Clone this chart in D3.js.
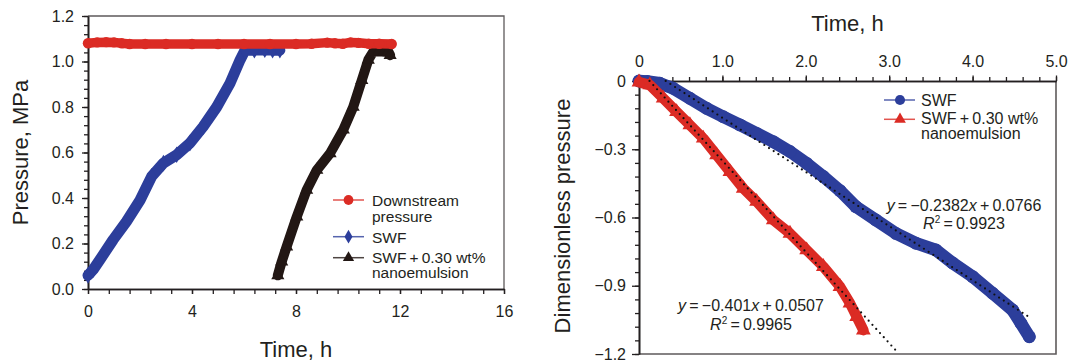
<!DOCTYPE html>
<html><head><meta charset="utf-8">
<script src="https://cdn.jsdelivr.net/npm/d3@7"></script>
<style>
body{margin:0;background:#fff}
svg{display:block}
text{font-family:"Liberation Sans",Arial,Helvetica,sans-serif;fill:#231f20}
</style>
</head><body>
<svg id="c" width="1073" height="363"></svg>
<script>
// ---------------- DATA ----------------
// Left panel: pressure (MPa) vs time (h)
const downT = [0, 0.35, 0.7, 1.0, 1.3, 1.6, 2.2, 3.0, 4.0, 5.0, 6.0, 7.0, 8.0, 8.6, 9.2, 9.5, 9.8, 10.1, 10.4, 10.8, 11.2, 11.68];
const downP = [1.080, 1.084, 1.085, 1.084, 1.080, 1.077, 1.077, 1.077, 1.077, 1.077, 1.077, 1.077, 1.077, 1.078, 1.083, 1.080, 1.078, 1.084, 1.082, 1.078, 1.078, 1.077];
const swfT = [0, 0.2, 0.46, 0.97, 1.48, 2.0, 2.45, 2.9, 3.41, 3.92, 4.43, 4.95, 5.46, 5.85, 6.04, 6.4, 6.8, 7.1, 7.38];
const swfP = [0.060, 0.085, 0.129, 0.217, 0.297, 0.390, 0.495, 0.553, 0.590, 0.641, 0.714, 0.800, 0.904, 1.007, 1.050, 1.050, 1.052, 1.050, 1.050];
const nanoT = [7.3, 7.45, 7.64, 8.03, 8.41, 8.8, 9.31, 9.82, 10.2, 10.53, 10.78, 10.97, 11.2, 11.4, 11.55, 11.62];
const nanoP = [0.060, 0.120, 0.186, 0.318, 0.435, 0.523, 0.596, 0.700, 0.800, 0.918, 1.007, 1.043, 1.045, 1.043, 1.043, 1.028];

// Right panel: dimensionless pressure vs time (h)
const dSwfT = [0, 0.1, 0.25, 0.41, 0.61, 0.81, 1.01, 1.21, 1.41, 1.61, 1.81, 2.01, 2.21, 2.41, 2.6, 2.84, 3.08, 3.32, 3.56, 3.76, 4.0, 4.24, 4.48, 4.58, 4.68];
const dSwfP = [0, -0.002, -0.010, -0.032, -0.076, -0.120, -0.157, -0.193, -0.230, -0.267, -0.310, -0.362, -0.420, -0.482, -0.552, -0.611, -0.670, -0.713, -0.743, -0.800, -0.860, -0.933, -1.007, -1.065, -1.124];
const dNanoT = [0, 0.13, 0.29, 0.45, 0.61, 0.77, 0.93, 1.09, 1.25, 1.41, 1.61, 1.81, 2.01, 2.21, 2.41, 2.53, 2.61, 2.69];
const dNanoP = [-0.005, -0.018, -0.076, -0.135, -0.193, -0.252, -0.325, -0.399, -0.472, -0.530, -0.611, -0.670, -0.743, -0.816, -0.904, -0.977, -1.036, -1.095];

// Linear fits (slope, intercept) and drawn extent
const fitSwf = [-0.2382, 0.0766];
const fitSwfRange = [0.32, 4.67];
const fitNano = [-0.401, 0.0507];
const fitNanoRange = [0.126, 3.09];

// Tick labels
const leftXTicks = [0, 4, 8, 12, 16];
const leftXLabels = ["0", "4", "8", "12", "16"];
const leftYTicks = [0, 0.2, 0.4, 0.6, 0.8, 1.0, 1.2];
const leftYLabels = ["0.0", "0.2", "0.4", "0.6", "0.8", "1.0", "1.2"];
const rightXTicks = [0, 1, 2, 3, 4, 5];
const rightXLabels = ["0", "1.0", "2.0", "3.0", "4.0", "5.0"];
const rightYTicks = [0, -0.3, -0.6, -0.9, -1.2];
const rightYLabels = ["0", "\u22120.3", "\u22120.6", "\u22120.9", "\u22121.2"];

const leftLegend = [["Downstream", "pressure"], ["SWF"], ["SWF\u2009+\u20090.30 wt%", "nanoemulsion"]];
const rightLegend = [["SWF"], ["SWF\u2009+\u20090.30 wt%", "nanoemulsion"]];

// ---------------- DRAW ----------------
const RED = "#db2b24", BLUE = "#2c3e9b", BLACK = "#221714", AX = "#231f20", GREY = "#5e5a5b";
const svg = d3.select("#c");

function styleAxis(g, fs) {
  g.selectAll("path.domain").attr("stroke", AX).attr("stroke-width", 1.6);
  g.selectAll(".tick line").attr("stroke", AX).attr("stroke-width", 1.3);
  g.selectAll(".tick text").attr("fill", AX).style("font-size", fs + "px")
    .style("font-family", '"Liberation Sans", Arial, sans-serif');
}

function series(g, xs, ys, xT, yT, color, sym, size, width) {
  const pts = xT.map((t, i) => [xs(t), ys(yT[i])]);
  g.append("path").attr("d", d3.line()(pts)).attr("fill", "none")
    .attr("stroke", color).attr("stroke-width", width)
    .attr("stroke-linejoin", "round").attr("stroke-linecap", "round");
  g.selectAll(null).data(pts).enter().append("path")
    .attr("transform", d => `translate(${d[0]},${d[1]})`)
    .attr("d", d3.symbol().type(sym).size(size)).attr("fill", color);
}

// ===== Left panel =====
const xL = d3.scaleLinear().domain([0, 16]).range([88, 504]);
const yL = d3.scaleLinear().domain([0, 1.2]).range([289, 16]);
const gL = svg.append("g");

gL.append("path").attr("d", `M${xL(0)},${yL(1.2)}H${xL(16)}V${yL(0)}`)
  .attr("fill", "none").attr("stroke", GREY).attr("stroke-width", 1.3);

const lxMin = gL.append("g").attr("transform", `translate(0,${yL(0)})`)
  .call(d3.axisBottom(xL).tickValues(d3.range(0, 16.01, 0.8)).tickSize(5).tickSizeOuter(0).tickFormat(""));
styleAxis(lxMin, 16);
const lx = gL.append("g").attr("transform", `translate(0,${yL(0)})`)
  .call(d3.axisBottom(xL).tickValues(leftXTicks).tickFormat((d, i) => leftXLabels[i]).tickSize(5).tickSizeOuter(0).tickPadding(12));
styleAxis(lx, 16);

const lyMin = gL.append("g").attr("transform", `translate(${xL(0)},0)`)
  .call(d3.axisLeft(yL).tickValues(d3.range(0, 1.201, 0.04)).tickSize(4).tickSizeOuter(0).tickFormat(""));
styleAxis(lyMin, 16);
const ly = gL.append("g").attr("transform", `translate(${xL(0)},0)`)
  .call(d3.axisLeft(yL).tickValues(leftYTicks).tickFormat((d, i) => leftYLabels[i]).tickSize(6).tickSizeOuter(0).tickPadding(8));
styleAxis(ly, 16);

series(gL, xL, yL, swfT, swfP, BLUE, d3.symbolDiamond, 80, 11);
series(gL, xL, yL, nanoT, nanoP, BLACK, d3.symbolTriangle, 75, 10);
series(gL, xL, yL, downT, downP, RED, d3.symbolCircle, 85, 9.5);

gL.append("text").attr("x", 296).attr("y", 357).attr("text-anchor", "middle")
  .style("font-size", "22px").text("Time, h");
gL.append("text").attr("transform", "translate(28,152.5) rotate(-90)").attr("text-anchor", "middle")
  .style("font-size", "22px").text("Pressure, MPa");

// left legend
const legL = gL.append("g");
const legLColors = [RED, BLUE, BLACK];
const legLSyms = [d3.symbolCircle, d3.symbolDiamond, d3.symbolTriangle];
const legLLineY = [200, 236.7, 257.7];
const legLTextY = [[206, 221.5], [242.7], [263, 278]];
leftLegend.forEach((lines, i) => {
  legL.append("line").attr("x1", 333).attr("x2", 364).attr("y1", legLLineY[i]).attr("y2", legLLineY[i])
    .attr("stroke", legLColors[i]).attr("stroke-width", 1.5).attr("opacity", 0.8);
  legL.append("path").attr("transform", `translate(348.5,${legLLineY[i]})`)
    .attr("d", d3.symbol().type(legLSyms[i]).size(i === 0 ? 75 : 55)).attr("fill", legLColors[i]);
  lines.forEach((s, j) => legL.append("text").attr("x", 372).attr("y", legLTextY[i][j])
    .style("font-size", "15.5px").text(s));
});

// ===== Right panel =====
const xR = d3.scaleLinear().domain([0, 5]).range([639, 1056]);
const yR = d3.scaleLinear().domain([-1.2, 0]).range([354, 81]);
const gR = svg.append("g");

gR.append("path").attr("d", `M${xR(5)},${yR(0)}V${yR(-1.2)}H${xR(0)}`)
  .attr("fill", "none").attr("stroke", GREY).attr("stroke-width", 1.6);

const rxMin = gR.append("g").attr("transform", `translate(0,${yR(0)})`)
  .call(d3.axisTop(xR).tickValues(d3.range(0, 5.001, 0.2)).tickSize(4).tickSizeOuter(0).tickFormat(""));
styleAxis(rxMin, 16);
const rx = gR.append("g").attr("transform", `translate(0,${yR(0)})`)
  .call(d3.axisTop(xR).tickValues(rightXTicks).tickFormat((d, i) => rightXLabels[i]).tickSize(5.5).tickSizeOuter(0).tickPadding(9));
styleAxis(rx, 16);

const ryMin = gR.append("g").attr("transform", `translate(${xR(0)},0)`)
  .call(d3.axisLeft(yR).tickValues(d3.range(0, 1.2001, 0.06).map(v => -v)).tickSize(4).tickSizeOuter(0).tickFormat(""));
styleAxis(ryMin, 16);
const ry = gR.append("g").attr("transform", `translate(${xR(0)},0)`)
  .call(d3.axisLeft(yR).tickValues(rightYTicks).tickFormat((d, i) => rightYLabels[i]).tickSize(7).tickSizeOuter(0).tickPadding(6));
styleAxis(ry, 16);

series(gR, xR, yR, dSwfT, dSwfP, BLUE, d3.symbolCircle, 130, 12.5);
series(gR, xR, yR, dNanoT, dNanoP, RED, d3.symbolTriangle, 95, 10.5);

function fitLine(fit, range) {
  const pts = range.map(t => [xR(t), yR(fit[0] * t + fit[1])]);
  gR.append("path").attr("d", d3.line()(pts)).attr("fill", "none")
    .attr("stroke", "#111").attr("stroke-width", 2.2).attr("stroke-linecap", "round")
    .attr("stroke-dasharray", "0,5.6");
}
fitLine(fitSwf, fitSwfRange);
fitLine(fitNano, fitNanoRange);

function eq(x, y, fit) {
  const t = gR.append("text").attr("x", x).attr("y", y).attr("text-anchor", "middle").style("font-size", "16px");
  t.append("tspan").style("font-style", "italic").text("y");
  t.append("tspan").text("\u2009=\u2009\u2212" + Math.abs(fit[0]));
  t.append("tspan").style("font-style", "italic").text("x");
  t.append("tspan").text("\u2009+\u2009" + fit[1].toFixed(4));
}
function r2(x, y, v) {
  const t = gR.append("text").attr("x", x).attr("y", y).attr("text-anchor", "middle").style("font-size", "16px");
  t.append("tspan").style("font-style", "italic").text("R");
  t.append("tspan").attr("dy", -6).style("font-size", "10px").text("2");
  t.append("tspan").attr("dy", 6).text("\u2009=\u2009" + v);
}
eq(964, 211, fitSwf);
r2(964, 229, "0.9923");
eq(751, 310.7, fitNano);
r2(751, 330, "0.9965");

gR.append("text").attr("x", 847.5).attr("y", 31).attr("text-anchor", "middle")
  .style("font-size", "22px").text("Time, h");
gR.append("text").attr("transform", "translate(570,216) rotate(-90)").attr("text-anchor", "middle")
  .style("font-size", "22px").text("Dimensionless pressure");

// right legend
const legR = gR.append("g");
const legRColors = [BLUE, RED];
const legRSyms = [d3.symbolCircle, d3.symbolTriangle];
const legRLineY = [100, 119.3];
const legRTextY = [[105.7], [123.5, 139]];
rightLegend.forEach((lines, i) => {
  legR.append("line").attr("x1", 884).attr("x2", 915).attr("y1", legRLineY[i]).attr("y2", legRLineY[i])
    .attr("stroke", legRColors[i]).attr("stroke-width", 1.5).attr("opacity", 0.8);
  legR.append("path").attr("transform", `translate(900,${legRLineY[i]})`)
    .attr("d", d3.symbol().type(legRSyms[i]).size(i === 0 ? 80 : 60)).attr("fill", legRColors[i]);
  lines.forEach((s, j) => legR.append("text").attr("x", 921).attr("y", legRTextY[i][j])
    .style("font-size", "16px").text(s));
});
</script>
</body></html>
